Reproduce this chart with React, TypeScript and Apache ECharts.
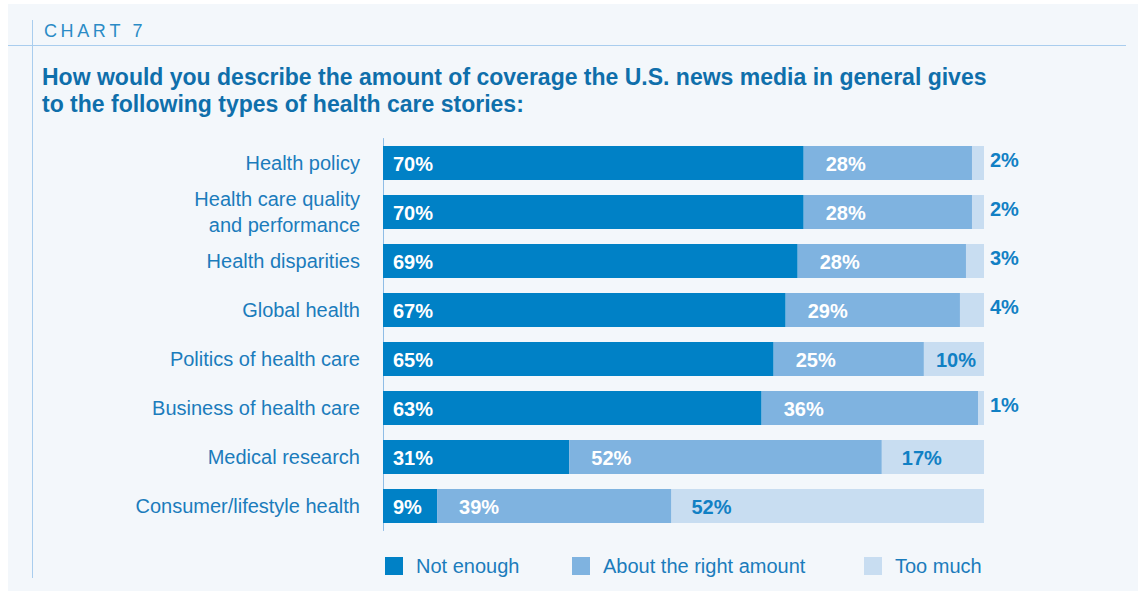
import React, { useEffect, useRef } from "react";
import * as echarts from "echarts";

const categories = [
  "Health policy",
  "Health care quality\nand performance",
  "Health disparities",
  "Global health",
  "Politics of health care",
  "Business of health care",
  "Medical research",
  "Consumer/lifestyle health",
];
const notEnough = [70, 70, 69, 67, 65, 63, 31, 9];
const aboutRight = [28, 28, 28, 29, 25, 36, 52, 39];
const tooMuch = [2, 2, 3, 4, 10, 1, 17, 52];
const seriesNames = ["Not enough", "About the right amount", "Too much"];

const C_DARK = "#0081c6";
const C_MID = "#7fb3e0";
const C_LIGHT = "#c8ddf1";
const TXT = "#1b7cbc";
const FONT = "'Liberation Sans', Arial, sans-serif";

export default function App() {
  const ref = useRef<HTMLDivElement>(null);
  useEffect(() => {
    if (!ref.current) return;
    const chart = echarts.init(ref.current, undefined, { renderer: "svg" });
    const valLabel = (offsetX: number, color: string) => ({
      show: true,
      position: "insideLeft",
      offset: [offsetX, 1],
      color,
      fontFamily: FONT,
      fontWeight: "bold",
      fontSize: 20,
      formatter: (p: any) => p.value + "%",
    });
    chart.setOption({
      animation: false,
      backgroundColor: "#ffffff",
      textStyle: { fontFamily: FONT },
      graphic: [
        { type: "rect", shape: { x: 8, y: 4, width: 1130, height: 587 }, style: { fill: "#f3f7fb" }, z: -10 },
        { type: "line", shape: { x1: 8, y1: 45.5, x2: 1126, y2: 45.5 }, style: { stroke: "#a9cdee", lineWidth: 1 } },
        { type: "line", shape: { x1: 32.5, y1: 20, x2: 32.5, y2: 578 }, style: { stroke: "#a9cdee", lineWidth: 1 } },
        { type: "text", x: 44, y: 22, style: { text: "C\u2009H\u2009A\u2009R\u2009T\u2009 \u20097", fill: "#2a8bc6", font: "normal 18px " + FONT } },
        {
          type: "text",
          x: 42,
          y: 63,
          style: {
            text: "How would you describe the amount of coverage the U.S. news media in general gives\nto the following types of health care stories:",
            fill: "#0f6fab",
            font: "bold 23px " + FONT,
            lineHeight: 27,
          },
        },
      ],
      grid: { left: 383, right: 154, top: 138.5, height: 392 },
      xAxis: { type: "value", min: 0, max: 100, show: false },
      yAxis: {
        type: "category",
        inverse: true,
        data: categories,
        axisLine: { show: true, lineStyle: { color: "#8fbde6", width: 1 } },
        axisTick: { show: false },
        axisLabel: { color: TXT, fontSize: 20, fontFamily: FONT, margin: 23, lineHeight: 26, align: "right" },
      },
      legend: seriesNames.map((n, i) => ({
        data: [n],
        left: [385, 572, 864][i],
        top: 556,
        padding: 0,
        itemWidth: 18,
        itemHeight: 18,
        icon: "rect",
        textStyle: { color: TXT, fontSize: 20, fontFamily: FONT, padding: [0, 0, 0, 8] },
      })),
      series: [
        {
          name: seriesNames[0],
          type: "bar",
          stack: "t",
          barWidth: 34,
          itemStyle: { color: C_DARK },
          label: valLabel(5, "#ffffff"),
          data: notEnough,
        },
        {
          name: seriesNames[1],
          type: "bar",
          stack: "t",
          barWidth: 34,
          itemStyle: { color: C_MID },
          label: valLabel(17, "#ffffff"),
          data: aboutRight,
        },
        {
          name: seriesNames[2],
          type: "bar",
          stack: "t",
          barWidth: 34,
          itemStyle: { color: C_LIGHT },
          label: valLabel(15, "#1180c4"),
          data: tooMuch.map((v) =>
            v < 5
              ? { value: v, label: { position: "right", offset: [0, -3], distance: 6 } }
              : v < 15
              ? { value: v, label: { offset: [7, 1] } }
              : v
          ),
        },
      ],
    });
    return () => chart.dispose();
  }, []);
  return (
    <div
      ref={ref}
      style={{ position: "absolute", left: 0, top: 0, width: 1138, height: 591 }}
    />
  );
}
